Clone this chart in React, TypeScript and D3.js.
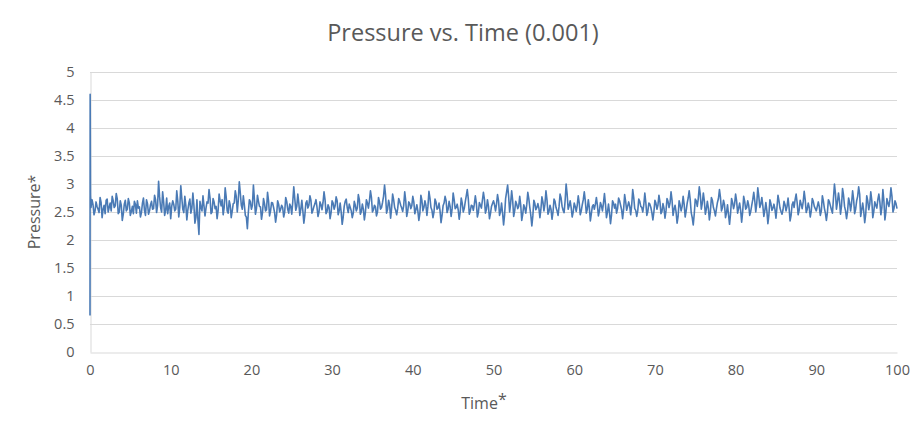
import * as d3 from "d3";
import { useEffect, useRef } from "react";

const WIDTH = 919;
const HEIGHT = 431;

// opening transient (time*, pressure*)
const startTimes = [0, 0.02, 0.06];
const startValues = [0.65, 4.6, 2.8];

// pressure* every 0.25 time units (t = 0.25 ... 100)
const STEP = 0.25;
const pressure = [
  2.72, 2.45, 2.68, 2.55, 2.76, 2.40, 2.62, 2.71, 2.50, 2.66,
  2.78, 2.58, 2.83, 2.47, 2.70, 2.35, 2.64, 2.52, 2.74, 2.44,
  2.60, 2.69, 2.48, 2.57, 2.41, 2.66, 2.53, 2.72, 2.46, 2.63,
  2.55, 2.80, 2.49, 3.05, 2.58, 2.86, 2.44, 2.75, 2.60, 2.38,

  2.70, 2.52, 2.88, 2.41, 2.97, 2.55, 2.78, 2.36, 2.66, 2.48,
  2.84, 2.30, 2.72, 2.10, 2.58, 2.79, 2.43, 2.68, 2.90, 2.47,
  2.74, 2.56, 2.38, 2.82, 2.61, 2.45, 2.93, 2.52, 2.70, 2.40,
  2.65, 2.88, 2.50, 3.04, 2.62, 2.79, 2.44, 2.20, 2.72, 2.55,

  2.98, 2.46, 2.80, 2.60, 2.37, 2.74, 2.52, 2.85, 2.43, 2.67,
  2.58, 2.32, 2.70, 2.50, 2.62, 2.41, 2.76, 2.55, 2.64, 2.46,
  2.95, 2.53, 2.82, 2.44, 2.71, 2.30, 2.66, 2.57, 2.79, 2.48,
  2.60, 2.72, 2.42, 2.68, 2.54, 2.86, 2.47, 2.63, 2.38, 2.70,

  2.55, 2.77, 2.45, 2.66, 2.28, 2.60, 2.73, 2.49, 2.58, 2.40,
  2.69, 2.52, 2.81, 2.46, 2.64, 2.36, 2.72, 2.57, 2.88, 2.50,
  2.62, 2.43, 2.76, 2.55, 2.67, 2.98, 2.48, 2.71, 2.39, 2.82,
  2.58, 2.45, 2.74, 2.62, 2.51, 2.86, 2.42, 2.68, 2.56, 2.78,

  2.47, 2.63, 2.35, 2.80, 2.52, 2.70, 2.44, 2.87, 2.58, 2.40,
  2.73, 2.55, 2.66, 2.31, 2.61, 2.78, 2.49, 2.69, 2.42, 2.84,
  2.56, 2.64, 2.37, 2.75, 2.50, 2.68, 2.90, 2.46, 2.62, 2.53,
  2.79, 2.41, 2.67, 2.57, 2.85, 2.48, 2.72, 2.38, 2.60, 2.70,

  2.52, 2.81, 2.44, 2.66, 2.27, 2.74, 2.98, 2.50, 2.88, 2.42,
  2.69, 2.56, 2.78, 2.35, 2.63, 2.48, 2.85, 2.58, 2.25, 2.71,
  2.54, 2.65, 2.40, 2.77, 2.52, 2.88, 2.46, 2.62, 2.37, 2.73,
  2.58, 2.44, 2.82, 2.60, 2.49, 3.00, 2.55, 2.70, 2.41, 2.66,

  2.51, 2.79, 2.45, 2.63, 2.86, 2.48, 2.72, 2.34, 2.60, 2.55,
  2.76, 2.43, 2.67, 2.52, 2.83, 2.40, 2.64, 2.29, 2.70, 2.57,
  2.48, 2.75, 2.62, 2.38, 2.81, 2.53, 2.68, 2.45, 2.90, 2.56,
  2.42, 2.73, 2.60, 2.50, 2.84, 2.44, 2.66, 2.58, 2.36, 2.71,

  2.55, 2.80, 2.47, 2.65, 2.39, 2.74, 2.58, 2.86, 2.44, 2.62,
  2.30, 2.70, 2.52, 2.78, 2.41, 2.66, 2.88, 2.49, 2.27, 2.73,
  2.60, 2.95, 2.55, 2.84, 2.46, 2.69, 2.36, 2.76, 2.58, 2.43,
  2.67, 2.90, 2.52, 2.71, 2.40, 2.63, 2.28, 2.74, 2.56, 2.82,

  2.48, 2.66, 2.32, 2.78, 2.55, 2.70, 2.44, 2.62, 2.85, 2.50,
  2.93, 2.58, 2.76, 2.42, 2.67, 2.29, 2.72, 2.53, 2.64, 2.39,
  2.80, 2.57, 2.46, 2.69, 2.52, 2.75, 2.34, 2.63, 2.58, 2.82,
  2.45, 2.71, 2.56, 2.87, 2.49, 2.66, 2.41, 2.74, 2.60, 2.52,

  2.68, 2.44, 2.79, 2.57, 2.35, 2.72, 2.61, 2.48, 3.00, 2.55,
  2.84, 2.46, 2.92, 2.60, 2.38, 2.75, 2.52, 2.88, 2.47, 2.70,
  2.95, 2.42, 2.66, 2.31, 2.79, 2.54, 2.86, 2.40, 2.68, 2.57,
  2.82, 2.45, 2.90, 2.36, 2.74, 2.60, 2.93, 2.50, 2.70, 2.56,
];

// in-between samples (t = 0.125, 0.375, ... 99.875)
const pressureMid = [
  2.58, 2.63, 2.52, 2.60, 2.49, 2.67, 2.55, 2.47, 2.73, 2.58,
  2.52, 2.70, 2.61, 2.74, 2.50, 2.62, 2.46, 2.71, 2.55, 2.66,
  2.51, 2.47, 2.64, 2.70, 2.59, 2.49, 2.75, 2.44, 2.65, 2.52,
  2.69, 2.56, 2.72, 2.62, 2.77, 2.50, 2.68, 2.53, 2.47, 2.66,

  2.60, 2.64, 2.55, 2.70, 2.58, 2.75, 2.49, 2.62, 2.54, 2.73,
  2.57, 2.62, 2.40, 2.36, 2.69, 2.52, 2.61, 2.57, 2.66, 2.75,
  2.50, 2.68, 2.60, 2.53, 2.70, 2.72, 2.58, 2.77, 2.48, 2.62,
  2.52, 2.66, 2.78, 2.71, 2.84, 2.55, 2.63, 2.41, 2.50, 2.68,

  2.62, 2.72, 2.56, 2.69, 2.59, 2.49, 2.65, 2.54, 2.70, 2.52,
  2.66, 2.49, 2.45, 2.64, 2.55, 2.58, 2.50, 2.69, 2.48, 2.60,
  2.68, 2.74, 2.60, 2.66, 2.55, 2.52, 2.45, 2.70, 2.62, 2.71,
  2.53, 2.65, 2.59, 2.50, 2.63, 2.67, 2.72, 2.51, 2.58, 2.49,

  2.66, 2.61, 2.70, 2.52, 2.50, 2.41, 2.69, 2.58, 2.64, 2.52,
  2.48, 2.62, 2.57, 2.72, 2.51, 2.55, 2.49, 2.66, 2.70, 2.76,
  2.54, 2.59, 2.50, 2.68, 2.58, 2.78, 2.80, 2.55, 2.63, 2.57,
  2.72, 2.53, 2.56, 2.69, 2.57, 2.62, 2.70, 2.52, 2.65, 2.61,

  2.68, 2.54, 2.52, 2.47, 2.71, 2.58, 2.62, 2.60, 2.75, 2.53,
  2.50, 2.68, 2.57, 2.52, 2.44, 2.66, 2.70, 2.55, 2.60, 2.56,
  2.72, 2.58, 2.54, 2.50, 2.66, 2.56, 2.79, 2.74, 2.52, 2.61,
  2.64, 2.66, 2.49, 2.62, 2.71, 2.73, 2.55, 2.60, 2.47, 2.65,

  2.63, 2.64, 2.70, 2.51, 2.48, 2.45, 2.86, 2.78, 2.66, 2.71,
  2.52, 2.64, 2.60, 2.62, 2.46, 2.57, 2.64, 2.74, 2.44, 2.43,
  2.65, 2.58, 2.57, 2.55, 2.68, 2.64, 2.72, 2.51, 2.55, 2.50,
  2.69, 2.52, 2.60, 2.75, 2.53, 2.70, 2.82, 2.61, 2.58, 2.50,

  2.60, 2.62, 2.66, 2.52, 2.72, 2.70, 2.55, 2.58, 2.47, 2.63,
  2.64, 2.62, 2.52, 2.61, 2.66, 2.64, 2.50, 2.49, 2.45, 2.66,
  2.64, 2.56, 2.70, 2.54, 2.55, 2.69, 2.60, 2.61, 2.62, 2.76,
  2.53, 2.52, 2.69, 2.58, 2.63, 2.67, 2.51, 2.64, 2.49, 2.50,

  2.66, 2.62, 2.68, 2.51, 2.57, 2.52, 2.69, 2.66, 2.71, 2.55,
  2.50, 2.42, 2.63, 2.60, 2.64, 2.52, 2.75, 2.72, 2.40, 2.46,
  2.70, 2.74, 2.81, 2.66, 2.70, 2.55, 2.57, 2.50, 2.71, 2.52,
  2.56, 2.74, 2.76, 2.58, 2.63, 2.49, 2.45, 2.47, 2.67, 2.64,

  2.70, 2.57, 2.53, 2.50, 2.69, 2.58, 2.62, 2.51, 2.72, 2.70,
  2.66, 2.78, 2.64, 2.61, 2.53, 2.52, 2.45, 2.65, 2.57, 2.55,
  2.58, 2.70, 2.51, 2.54, 2.63, 2.60, 2.58, 2.44, 2.68, 2.72,
  2.67, 2.53, 2.64, 2.68, 2.72, 2.55, 2.58, 2.52, 2.69, 2.56,

  2.60, 2.59, 2.52, 2.70, 2.48, 2.49, 2.68, 2.54, 2.74, 2.83,
  2.68, 2.70, 2.61, 2.80, 2.52, 2.51, 2.67, 2.66, 2.72, 2.55,
  2.78, 2.82, 2.54, 2.52, 2.46, 2.70, 2.64, 2.71, 2.51, 2.62,
  2.72, 2.68, 2.58, 2.70, 2.50, 2.66, 2.72, 2.78, 2.56, 2.65,
];

const xTicks = [0, 10, 20, 30, 40, 50, 60, 70, 80, 90, 100];
const yTicks = [0, 0.5, 1, 1.5, 2, 2.5, 3, 3.5, 4, 4.5, 5];

const TEXT = "#595959";
const GRID = "#d9d9d9";
const LINE = "#4a7ab5";
const FONT = "'Open Sans', 'Noto Sans', sans-serif";

type Pt = { t: number; p: number };

export default function App() {
  const svgRef = useRef<SVGSVGElement>(null);

  useEffect(() => {
    if (!svgRef.current) return;
    const svg = d3.select(svgRef.current);
    svg.selectAll("*").remove();

    const margin = { top: 72, right: 22, bottom: 79, left: 90 };
    const innerWidth = WIDTH - margin.left - margin.right;
    const innerHeight = HEIGHT - margin.top - margin.bottom;

    const x = d3.scaleLinear().domain([0, 100]).range([0, innerWidth]);
    const y = d3.scaleLinear().domain([0, 5]).range([innerHeight, 0]);

    const data: Pt[] = startTimes.map((t, i) => ({ t, p: startValues[i] }));
    pressure.forEach((p, i) => {
      data.push({ t: (i + 0.5) * STEP, p: pressureMid[i] });
      data.push({ t: (i + 1) * STEP, p });
    });

    svg.append("rect").attr("width", WIDTH).attr("height", HEIGHT).attr("fill", "#fff");

    svg
      .append("text")
      .attr("x", 463)
      .attr("y", 41)
      .attr("text-anchor", "middle")
      .attr("fill", TEXT)
      .style("font-family", FONT)
      .style("font-size", "23.5px")
      .text("Pressure vs. Time (0.001)");

    const g = svg.append("g").attr("transform", `translate(${margin.left},${margin.top})`);

    // horizontal gridlines
    g.append("g")
      .selectAll("line")
      .data(yTicks.filter((d) => d > 0))
      .join("line")
      .attr("x1", 0)
      .attr("x2", innerWidth)
      .attr("y1", (d) => Math.round(y(d)) + 0.5)
      .attr("y2", (d) => Math.round(y(d)) + 0.5)
      .attr("stroke", GRID);

    // axes
    const xAxis = g
      .append("g")
      .attr("transform", `translate(0,${innerHeight + 0.5})`)
      .call(d3.axisBottom(x).tickValues(xTicks).tickSize(0).tickPadding(12));
    const yAxis = g
      .append("g")
      .attr("transform", "translate(0.5,0)")
      .call(d3.axisLeft(y).tickValues(yTicks).tickSize(0).tickPadding(16).tickFormat((d) => String(d)));

    [xAxis, yAxis].forEach((a) => {
      a.select(".domain").attr("stroke", GRID);
      a.selectAll("text").attr("fill", TEXT).style("font-family", FONT).style("font-size", "14.5px");
    });

    // series
    const line = d3
      .line<Pt>()
      .x((d) => x(d.t))
      .y((d) => y(d.p));
    g.append("path")
      .datum(data)
      .attr("fill", "none")
      .attr("stroke", LINE)
      .attr("stroke-width", 1.6)
      .attr("stroke-linejoin", "round")
      .attr("d", line);

    // axis titles
    svg
      .append("text")
      .attr("transform", `translate(40,${margin.top + innerHeight / 2}) rotate(-90)`)
      .attr("text-anchor", "middle")
      .attr("fill", TEXT)
      .style("font-family", FONT)
      .style("font-size", "16px")
      .text("Pressure*");

    const tt = svg
      .append("text")
      .attr("x", 484)
      .attr("y", 409)
      .attr("text-anchor", "middle")
      .attr("fill", TEXT)
      .style("font-family", FONT)
      .style("font-size", "16px");
    tt.append("tspan").text("Time");
    tt.append("tspan").attr("dy", -4).text("*");
  }, []);

  return (
    <div style={{ position: "absolute", left: 0, top: 0 }}>
      <svg ref={svgRef} width={WIDTH} height={HEIGHT} style={{ display: "block" }} />
    </div>
  );
}
